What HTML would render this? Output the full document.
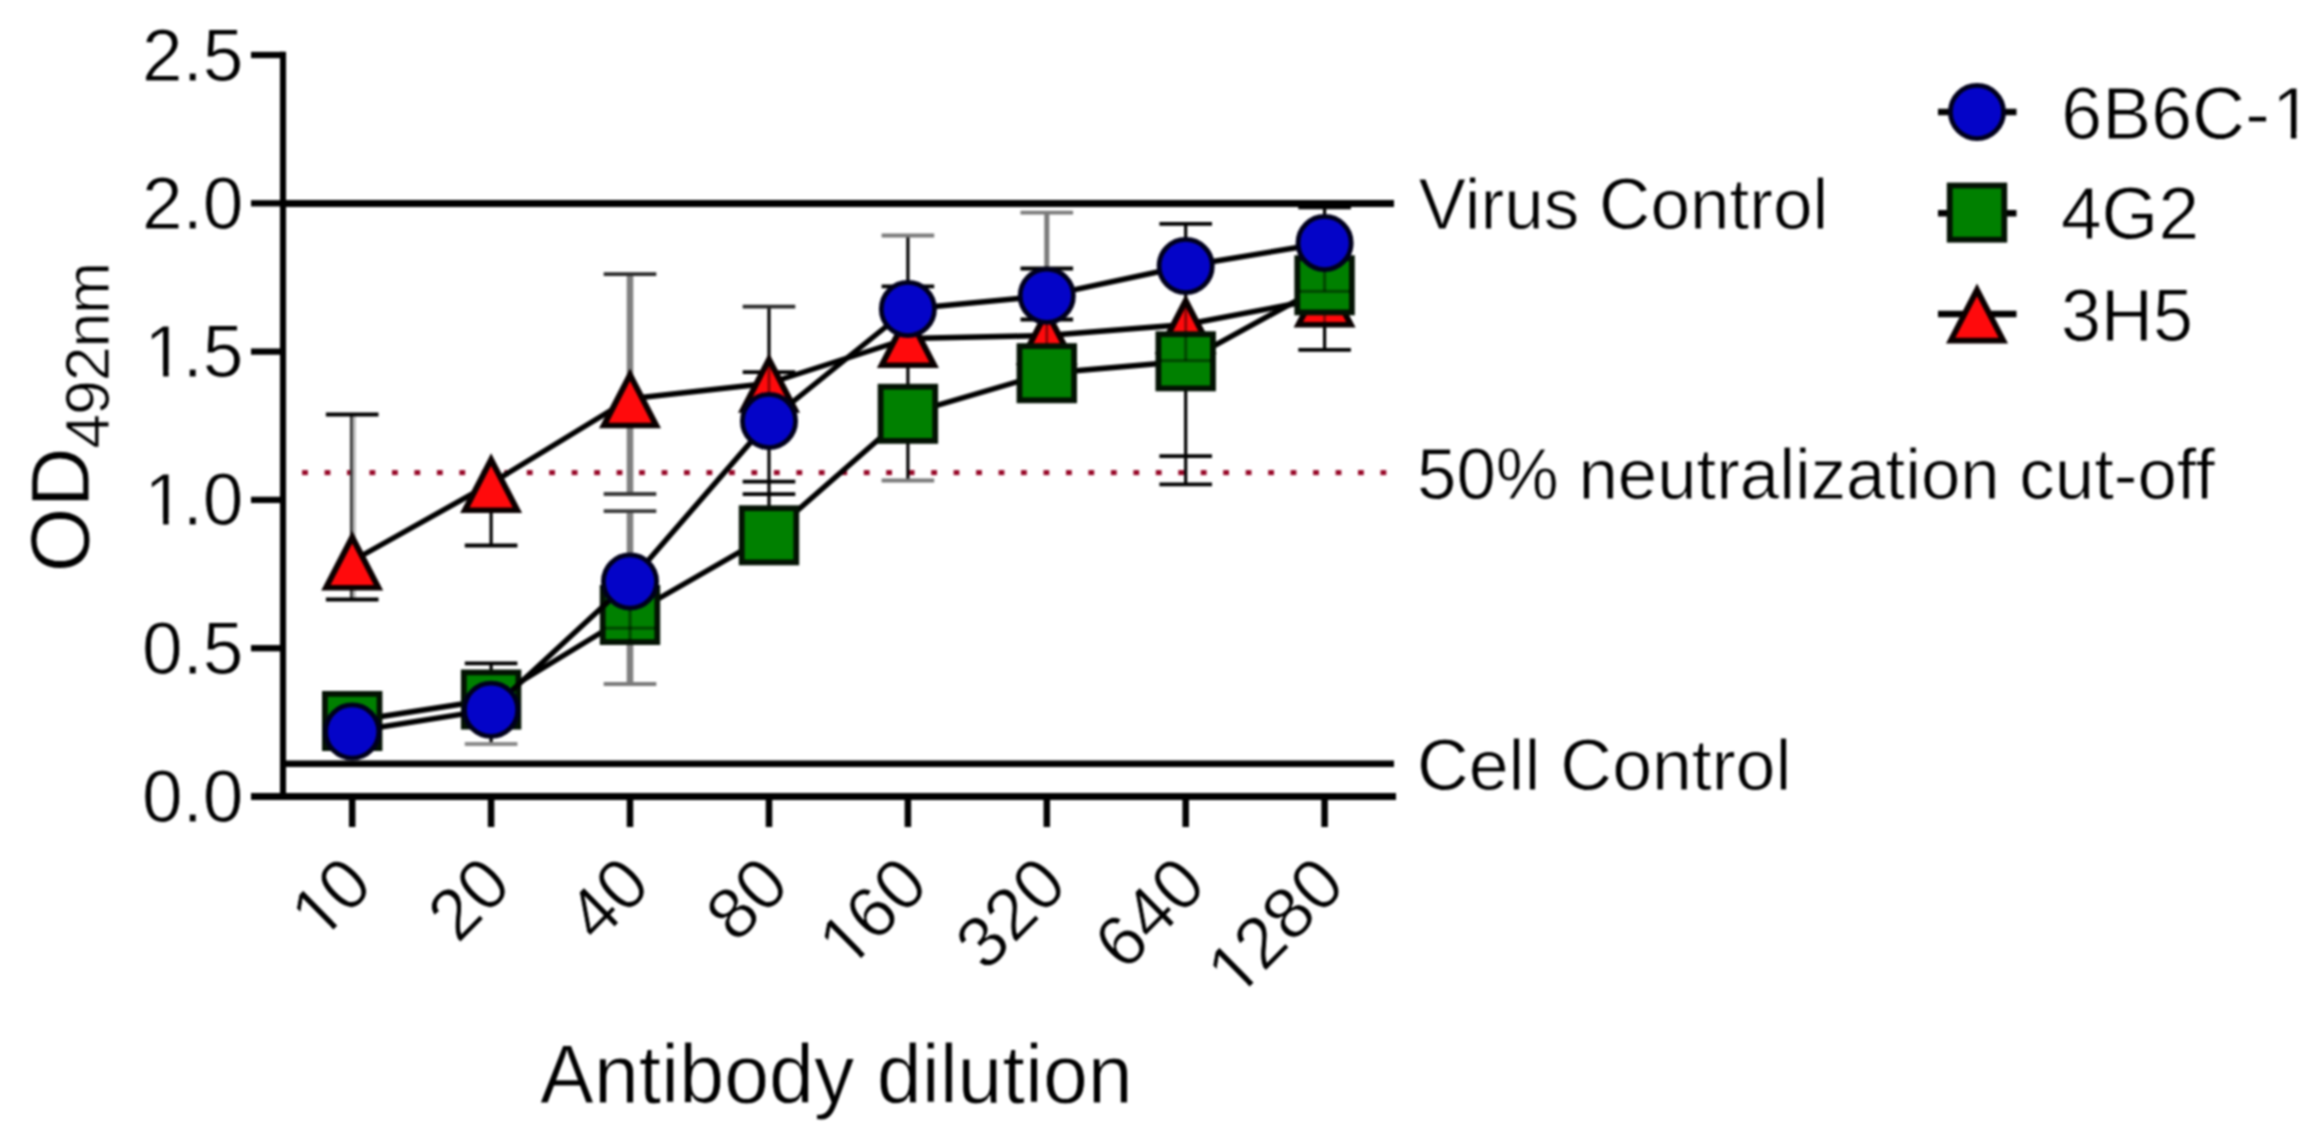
<!DOCTYPE html>
<html lang="en"><head><meta charset="utf-8"><title>Neutralization assay chart</title>
<style>html,body{margin:0;padding:0;background:#fff;}body{width:2323px;height:1145px;overflow:hidden;}svg{display:block;filter:blur(0.8px);}text{stroke:#fff;stroke-width:0.9px;}</style>
</head><body>
<svg width="2323" height="1145" viewBox="0 0 2323 1145" font-family='"Liberation Sans", Arial, Helvetica, sans-serif' fill="#000">
<rect width="2323" height="1145" fill="#fff"/>
<g fill="#960626">
<rect x="302.1" y="470.1" width="5.8" height="5"/>
<rect x="324.6" y="470.1" width="5.8" height="5"/>
<rect x="347.0" y="470.1" width="5.8" height="5"/>
<rect x="369.5" y="470.1" width="5.8" height="5"/>
<rect x="392.0" y="470.1" width="5.8" height="5"/>
<rect x="414.4" y="470.1" width="5.8" height="5"/>
<rect x="436.9" y="470.1" width="5.8" height="5"/>
<rect x="459.4" y="470.1" width="5.8" height="5"/>
<rect x="481.8" y="470.1" width="5.8" height="5"/>
<rect x="504.3" y="470.1" width="5.8" height="5"/>
<rect x="526.8" y="470.1" width="5.8" height="5"/>
<rect x="549.2" y="470.1" width="5.8" height="5"/>
<rect x="571.7" y="470.1" width="5.8" height="5"/>
<rect x="594.2" y="470.1" width="5.8" height="5"/>
<rect x="616.6" y="470.1" width="5.8" height="5"/>
<rect x="639.1" y="470.1" width="5.8" height="5"/>
<rect x="661.6" y="470.1" width="5.8" height="5"/>
<rect x="684.0" y="470.1" width="5.8" height="5"/>
<rect x="706.5" y="470.1" width="5.8" height="5"/>
<rect x="729.0" y="470.1" width="5.8" height="5"/>
<rect x="751.4" y="470.1" width="5.8" height="5"/>
<rect x="773.9" y="470.1" width="5.8" height="5"/>
<rect x="796.4" y="470.1" width="5.8" height="5"/>
<rect x="818.8" y="470.1" width="5.8" height="5"/>
<rect x="841.3" y="470.1" width="5.8" height="5"/>
<rect x="863.8" y="470.1" width="5.8" height="5"/>
<rect x="886.2" y="470.1" width="5.8" height="5"/>
<rect x="908.7" y="470.1" width="5.8" height="5"/>
<rect x="931.2" y="470.1" width="5.8" height="5"/>
<rect x="953.6" y="470.1" width="5.8" height="5"/>
<rect x="976.1" y="470.1" width="5.8" height="5"/>
<rect x="998.6" y="470.1" width="5.8" height="5"/>
<rect x="1021.0" y="470.1" width="5.8" height="5"/>
<rect x="1043.5" y="470.1" width="5.8" height="5"/>
<rect x="1066.0" y="470.1" width="5.8" height="5"/>
<rect x="1088.4" y="470.1" width="5.8" height="5"/>
<rect x="1110.9" y="470.1" width="5.8" height="5"/>
<rect x="1133.4" y="470.1" width="5.8" height="5"/>
<rect x="1155.8" y="470.1" width="5.8" height="5"/>
<rect x="1178.3" y="470.1" width="5.8" height="5"/>
<rect x="1200.8" y="470.1" width="5.8" height="5"/>
<rect x="1223.2" y="470.1" width="5.8" height="5"/>
<rect x="1245.7" y="470.1" width="5.8" height="5"/>
<rect x="1268.2" y="470.1" width="5.8" height="5"/>
<rect x="1290.6" y="470.1" width="5.8" height="5"/>
<rect x="1313.1" y="470.1" width="5.8" height="5"/>
<rect x="1335.6" y="470.1" width="5.8" height="5"/>
<rect x="1358.0" y="470.1" width="5.8" height="5"/>
<rect x="1380.5" y="470.1" width="5.8" height="5"/>
</g>
<g stroke="#000" fill="none">
<line x1="283" y1="203.5" x2="1394" y2="203.5" stroke-width="7"/>
<line x1="283" y1="763.7" x2="1394" y2="763.7" stroke-width="6.5"/>
<line x1="283" y1="51.7" x2="283" y2="800" stroke-width="6.1"/>
<line x1="251" y1="796.5" x2="1396" y2="796.5" stroke-width="7"/>
<line x1="251" y1="648.2" x2="283" y2="648.2" stroke-width="6.3"/>
<line x1="251" y1="499.9" x2="283" y2="499.9" stroke-width="6.3"/>
<line x1="251" y1="351.6" x2="283" y2="351.6" stroke-width="6.3"/>
<line x1="251" y1="203.3" x2="283" y2="203.3" stroke-width="6.3"/>
<line x1="251" y1="55.0" x2="283" y2="55.0" stroke-width="6.3"/>
<line x1="352.2" y1="797" x2="352.2" y2="827" stroke-width="6.5"/>
<line x1="491.1" y1="797" x2="491.1" y2="827" stroke-width="6.5"/>
<line x1="630.0" y1="797" x2="630.0" y2="827" stroke-width="6.5"/>
<line x1="769.0" y1="797" x2="769.0" y2="827" stroke-width="6.5"/>
<line x1="907.9" y1="797" x2="907.9" y2="827" stroke-width="6.5"/>
<line x1="1046.8" y1="797" x2="1046.8" y2="827" stroke-width="6.5"/>
<line x1="1185.7" y1="797" x2="1185.7" y2="827" stroke-width="6.5"/>
<line x1="1324.6" y1="797" x2="1324.6" y2="827" stroke-width="6.5"/>
</g>
<g transform="translate(243.5,822.0) scale(0.985,1)"><text font-size="74.2" text-anchor="end">0.0</text></g>
<g transform="translate(243.5,673.7) scale(0.985,1)"><text font-size="74.2" text-anchor="end">0.5</text></g>
<g transform="translate(243.5,525.4) scale(0.985,1)"><text x="-103.14" dx="2.45 -2.45 0" font-size="74.2">1.0</text><rect x="-96.98" y="-6.97" width="15.37" height="7.72" fill="#fff"/><rect x="-76.00" y="-6.97" width="14.84" height="7.72" fill="#fff"/></g>
<g transform="translate(243.5,377.1) scale(0.985,1)"><text x="-103.14" dx="2.45 -2.45 0" font-size="74.2">1.5</text><rect x="-96.98" y="-6.97" width="15.37" height="7.72" fill="#fff"/><rect x="-76.00" y="-6.97" width="14.84" height="7.72" fill="#fff"/></g>
<g transform="translate(243.5,228.8) scale(0.985,1)"><text font-size="74.2" text-anchor="end">2.0</text></g>
<g transform="translate(243.5,80.5) scale(0.985,1)"><text font-size="74.2" text-anchor="end">2.5</text></g>
<g transform="translate(375.3,887.8) scale(0.985,1) rotate(-45)"><text x="-80.62" dx="2.39 -2.39" font-size="72.5">10</text><rect x="-74.60" y="-6.82" width="15.02" height="7.54" fill="#fff"/><rect x="-54.10" y="-6.82" width="14.50" height="7.54" fill="#fff"/></g>
<g transform="translate(514.2,887.8) scale(0.985,1) rotate(-45)"><text font-size="72.5" text-anchor="end">20</text></g>
<g transform="translate(653.1,887.8) scale(0.985,1) rotate(-45)"><text font-size="72.5" text-anchor="end">40</text></g>
<g transform="translate(792.1,887.8) scale(0.985,1) rotate(-45)"><text font-size="72.5" text-anchor="end">80</text></g>
<g transform="translate(931.0,887.8) scale(0.985,1) rotate(-45)"><text x="-120.93" dx="2.39 -2.39 0" font-size="72.5">160</text><rect x="-114.91" y="-6.82" width="15.02" height="7.54" fill="#fff"/><rect x="-94.41" y="-6.82" width="14.50" height="7.54" fill="#fff"/></g>
<g transform="translate(1069.9,887.8) scale(0.985,1) rotate(-45)"><text font-size="72.5" text-anchor="end">320</text></g>
<g transform="translate(1208.8,887.8) scale(0.985,1) rotate(-45)"><text font-size="72.5" text-anchor="end">640</text></g>
<g transform="translate(1347.7,887.8) scale(0.985,1) rotate(-45)"><text x="-161.24" dx="2.39 -2.39 0 0" font-size="72.5">1280</text><rect x="-155.22" y="-6.82" width="15.02" height="7.54" fill="#fff"/><rect x="-134.72" y="-6.82" width="14.50" height="7.54" fill="#fff"/></g>
<g transform="translate(836.4,1103.0) scale(0.966,1)"><text font-size="83.6" text-anchor="middle">Antibody dilution</text></g>
<g transform="translate(89.3,572.5) scale(1.0,1) rotate(-90)"><text font-size="83.5">OD<tspan font-size="62.6" dx="-1.5" dy="20" letter-spacing="-1.1">492nm</tspan></text></g>
<g transform="translate(1418.5,228.5) scale(0.9746,1)"><text font-size="73">Virus Control</text></g>
<g transform="translate(1417.0,498.5) scale(0.9704,1)"><text font-size="73">50% neutralization cut-off</text></g>
<g transform="translate(1417.0,789.7) scale(0.982,1)"><text font-size="73">Cell Control</text></g>
<g transform="translate(2061.3,139.0) scale(0.985,1)"><text x="0.00" dx="0 0 0 0 0 2.46" font-size="74.6">6B6C-1</text><rect x="217.61" y="-7.01" width="15.46" height="7.76" fill="#fff"/><rect x="238.71" y="-7.01" width="14.92" height="7.76" fill="#fff"/></g>
<g transform="translate(2061.0,239.2) scale(0.992,1)"><text font-size="73.6">4G2</text></g>
<g transform="translate(2061.0,340.6) scale(0.977,1)"><text font-size="73.6">3H5</text></g>
<g fill="none"><line x1="351.4" y1="414.5" x2="351.4" y2="599.5" stroke="#3c3c3c" stroke-width="3"/><line x1="354.4" y1="414.5" x2="354.4" y2="599.5" stroke="#bcbcbc" stroke-width="3"/><line x1="325.9" y1="414.5" x2="378.5" y2="414.5" stroke="#000" stroke-width="3.8"/><line x1="325.9" y1="599.5" x2="378.5" y2="599.5" stroke="#000" stroke-width="3.8"/><line x1="491.1" y1="500.0" x2="491.1" y2="545.5" stroke="#000" stroke-width="3.2"/><line x1="464.8" y1="545.5" x2="517.4" y2="545.5" stroke="#000" stroke-width="3.8"/><line x1="491.1" y1="663.3" x2="491.1" y2="744.0" stroke="#000" stroke-width="3.2"/><line x1="464.8" y1="663.3" x2="517.4" y2="663.3" stroke="#000" stroke-width="3.8"/><line x1="464.8" y1="744.0" x2="517.4" y2="744.0" stroke="#8a8a8a" stroke-width="3.8"/><line x1="630.0" y1="274.2" x2="630.0" y2="494.0" stroke="#808080" stroke-width="6.6"/><line x1="630.0" y1="511.2" x2="630.0" y2="684.0" stroke="#808080" stroke-width="6.6"/><line x1="603.7" y1="274.2" x2="656.3" y2="274.2" stroke="#2a2a2a" stroke-width="3.8"/><line x1="603.7" y1="494.0" x2="656.3" y2="494.0" stroke="#3a3a3a" stroke-width="3.8"/><line x1="603.7" y1="511.2" x2="656.3" y2="511.2" stroke="#3a3a3a" stroke-width="3.8"/><line x1="603.7" y1="684.0" x2="656.3" y2="684.0" stroke="#7a7a7a" stroke-width="3.8"/><line x1="769.0" y1="306.7" x2="769.0" y2="510.0" stroke="#000" stroke-width="3.2"/><line x1="742.7" y1="306.7" x2="795.3" y2="306.7" stroke="#2a2a2a" stroke-width="3.8"/><line x1="742.7" y1="372.2" x2="795.3" y2="372.2" stroke="#000" stroke-width="3.8"/><line x1="742.7" y1="481.6" x2="795.3" y2="481.6" stroke="#000" stroke-width="3.8"/><line x1="742.7" y1="494.2" x2="795.3" y2="494.2" stroke="#000" stroke-width="3.8"/><line x1="907.9" y1="235.5" x2="907.9" y2="480.5" stroke="#000" stroke-width="3.2"/><line x1="881.6" y1="235.5" x2="934.2" y2="235.5" stroke="#7a7a7a" stroke-width="3.8"/><line x1="881.6" y1="286.3" x2="934.2" y2="286.3" stroke="#000" stroke-width="3.8"/><line x1="881.6" y1="480.5" x2="934.2" y2="480.5" stroke="#7a7a7a" stroke-width="3.8"/><line x1="1046.8" y1="212.7" x2="1046.8" y2="300.0" stroke="#7a7a7a" stroke-width="5"/><line x1="1020.5" y1="212.7" x2="1073.1" y2="212.7" stroke="#7a7a7a" stroke-width="3.8"/><line x1="1020.5" y1="268.5" x2="1073.1" y2="268.5" stroke="#000" stroke-width="3.8"/><line x1="1020.5" y1="319.5" x2="1073.1" y2="319.5" stroke="#000" stroke-width="3.8"/><line x1="1185.7" y1="223.9" x2="1185.7" y2="484.3" stroke="#000" stroke-width="3.2"/><line x1="1159.4" y1="223.9" x2="1212.0" y2="223.9" stroke="#000" stroke-width="3.8"/><line x1="1159.4" y1="456.1" x2="1212.0" y2="456.1" stroke="#000" stroke-width="3.8"/><line x1="1159.4" y1="484.3" x2="1212.0" y2="484.3" stroke="#000" stroke-width="3.8"/><line x1="1324.6" y1="207.3" x2="1324.6" y2="349.8" stroke="#000" stroke-width="3.2"/><line x1="1298.3" y1="207.3" x2="1350.9" y2="207.3" stroke="#000" stroke-width="3.8"/><line x1="1298.3" y1="349.8" x2="1350.9" y2="349.8" stroke="#000" stroke-width="3.8"/></g>
<polyline points="352.2,561.0 491.1,483.4 630.0,398.7 769.0,383.2 907.9,338.5 1046.8,335.5 1185.7,324.5 1324.6,298.0" fill="none" stroke="#000" stroke-width="5.4" stroke-linejoin="round"/>
<polygon points="352.2,530.8 383.2,590.6 321.2,590.6" fill="#0a0000"/><polygon points="352.2,543.4 373.8,585.0 330.6,585.0" fill="#ff0a0c"/>
<polygon points="491.1,453.2 522.1,513.0 460.1,513.0" fill="#0a0000"/><polygon points="491.1,465.8 512.7,507.4 469.6,507.4" fill="#ff0a0c"/>
<polygon points="630.0,368.5 661.0,428.3 599.0,428.3" fill="#0a0000"/><polygon points="630.0,381.1 651.6,422.7 608.5,422.7" fill="#ff0a0c"/>
<polygon points="769.0,353.0 800.0,412.8 738.0,412.8" fill="#0a0000"/><polygon points="769.0,365.6 790.5,407.2 747.4,407.2" fill="#ff0a0c"/>
<polygon points="907.9,308.3 938.9,368.1 876.9,368.1" fill="#0a0000"/><polygon points="907.9,320.9 929.4,362.5 886.3,362.5" fill="#ff0a0c"/>
<polygon points="1046.8,305.3 1077.8,365.1 1015.8,365.1" fill="#0a0000"/><polygon points="1046.8,317.9 1068.4,359.5 1025.2,359.5" fill="#ff0a0c"/>
<polygon points="1185.7,294.3 1216.7,354.1 1154.7,354.1" fill="#0a0000"/><polygon points="1185.7,306.9 1207.3,348.5 1164.2,348.5" fill="#ff0a0c"/>
<polygon points="1324.6,267.8 1355.6,327.6 1293.6,327.6" fill="#0a0000"/><polygon points="1324.6,280.4 1346.2,322.0 1303.1,322.0" fill="#ff0a0c"/>
<g fill="none">
<line x1="769.0" y1="360.0" x2="769.0" y2="400.0" stroke="rgba(0,0,0,0.42)" stroke-width="3"/>
<line x1="1046.8" y1="315.0" x2="1046.8" y2="345.0" stroke="rgba(0,0,0,0.42)" stroke-width="3"/>
<line x1="1185.7" y1="300.0" x2="1185.7" y2="335.0" stroke="rgba(0,0,0,0.42)" stroke-width="3"/>
<line x1="1324.6" y1="300.0" x2="1324.6" y2="326.0" stroke="rgba(0,0,0,0.42)" stroke-width="3"/>
</g>
<polyline points="352.2,721.0 491.1,699.5 630.0,615.0 769.0,535.3 907.9,413.8 1046.8,373.2 1185.7,361.3 1324.6,285.3" fill="none" stroke="#000" stroke-width="5.4" stroke-linejoin="round"/>
<rect x="324.9" y="693.9" width="54.6" height="54.2" fill="#008000" stroke="#031203" stroke-width="5.8"/>
<rect x="463.8" y="672.4" width="54.6" height="54.2" fill="#008000" stroke="#031203" stroke-width="5.8"/>
<rect x="602.7" y="587.9" width="54.6" height="54.2" fill="#008000" stroke="#031203" stroke-width="5.8"/>
<rect x="741.7" y="508.2" width="54.6" height="54.2" fill="#008000" stroke="#031203" stroke-width="5.8"/>
<rect x="880.6" y="386.7" width="54.6" height="54.2" fill="#008000" stroke="#031203" stroke-width="5.8"/>
<rect x="1019.5" y="346.1" width="54.6" height="54.2" fill="#008000" stroke="#031203" stroke-width="5.8"/>
<rect x="1158.4" y="334.2" width="54.6" height="54.2" fill="#008000" stroke="#031203" stroke-width="5.8"/>
<rect x="1297.3" y="258.2" width="54.6" height="54.2" fill="#008000" stroke="#031203" stroke-width="5.8"/>
<g fill="none">
<line x1="630.0" y1="590.0" x2="630.0" y2="642.0" stroke="rgba(0,0,0,0.42)" stroke-width="3.4"/>
<line x1="604.0" y1="628.2" x2="656.0" y2="628.2" stroke="rgba(0,0,0,0.42)" stroke-width="3.2"/>
<line x1="1185.7" y1="335.0" x2="1185.7" y2="360.6" stroke="rgba(0,0,0,0.42)" stroke-width="3.2"/>
<line x1="1159.7" y1="360.6" x2="1211.7" y2="360.6" stroke="rgba(0,0,0,0.42)" stroke-width="3.2"/>
<line x1="1324.6" y1="258.0" x2="1324.6" y2="291.3" stroke="rgba(0,0,0,0.42)" stroke-width="3.2"/>
<line x1="1298.6" y1="291.3" x2="1350.6" y2="291.3" stroke="rgba(0,0,0,0.42)" stroke-width="3.2"/>
</g>
<polyline points="352.2,731.5 491.1,709.7 630.0,581.5 769.0,421.0 907.9,309.0 1046.8,295.7 1185.7,266.0 1324.6,243.0" fill="none" stroke="#000" stroke-width="5.4" stroke-linejoin="round"/>
<circle cx="352.2" cy="731.5" r="26.6" fill="#0404c8" stroke="#00001c" stroke-width="4.8"/>
<circle cx="491.1" cy="709.7" r="26.6" fill="#0404c8" stroke="#00001c" stroke-width="4.8"/>
<circle cx="630.0" cy="581.5" r="26.6" fill="#0404c8" stroke="#00001c" stroke-width="4.8"/>
<circle cx="769.0" cy="421.0" r="26.6" fill="#0404c8" stroke="#00001c" stroke-width="4.8"/>
<circle cx="907.9" cy="309.0" r="26.6" fill="#0404c8" stroke="#00001c" stroke-width="4.8"/>
<circle cx="1046.8" cy="295.7" r="26.6" fill="#0404c8" stroke="#00001c" stroke-width="4.8"/>
<circle cx="1185.7" cy="266.0" r="26.6" fill="#0404c8" stroke="#00001c" stroke-width="4.8"/>
<circle cx="1324.6" cy="243.0" r="26.6" fill="#0404c8" stroke="#00001c" stroke-width="4.8"/>
<line x1="1938" y1="112" x2="2016.5" y2="112" stroke="#000" stroke-width="6.4"/><circle cx="1977.0" cy="112.0" r="26.6" fill="#0404c8" stroke="#00001c" stroke-width="4.8"/>
<line x1="1938" y1="213.3" x2="2016.5" y2="213.3" stroke="#000" stroke-width="6.4"/><rect x="1949.7" y="185.5" width="54.6" height="54.2" fill="#008000" stroke="#031203" stroke-width="5.8"/>
<line x1="1938" y1="314" x2="2016.5" y2="314" stroke="#000" stroke-width="6.4"/><polygon points="1977.0,283.6 2008.0,343.4 1946.0,343.4" fill="#0a0000"/><polygon points="1977.0,296.2 1998.6,337.8 1955.4,337.8" fill="#ff0a0c"/>
</svg>
</body></html>
